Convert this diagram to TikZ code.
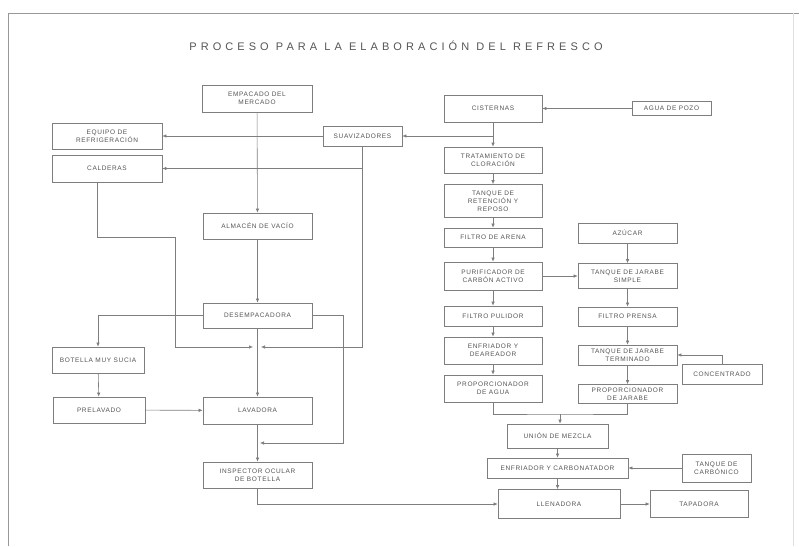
\documentclass[tikz,border=0pt]{standalone}
\usepackage{fontspec}
\setmainfont{Liberation Sans}
\usetikzlibrary{positioning, arrows.meta}
\definecolor{linegray}{HTML}{7E7E7E}
\definecolor{inkgray}{HTML}{555555}
\tikzset{
  box/.style={draw=linegray, line width=0.7pt, fill=white, align=center, font=\fontsize{6.5}{8}\selectfont\addfontfeatures{LetterSpace=10}, text=inkgray, inner sep=1pt},
  arrow/.style={-{Latex[length=4pt, width=3.5pt]}, line width=0.6pt, draw=linegray},
  link/.style={line width=0.6pt, draw=linegray},
}

\begin{document}
\begin{tikzpicture}[x=1pt, y=-1pt]
  \useasboundingbox (0,0) rectangle (799,546);
  % page frame
  \draw[linegray!80, line width=0.8pt] (8,546) -- (8,13) -- (799,13);
  \draw[linegray!25] (793,13) -- (793,546);
  % title
  \node[font=\fontsize{11}{13}\selectfont\addfontfeatures{LetterSpace=37}, text=inkgray] (title) at (396,46) {PROCESO PARA LA ELABORACIÓN DEL REFRESCO};

  % Bottle line (left)
  \node[box, minimum width=110pt, minimum height=27pt] (empaque) at (257,98.5) {EMPACADO DEL\\MERCADO};
  \node[box, minimum width=110pt, minimum height=26pt] (refri) at (107,136) {EQUIPO DE\\REFRIGERACIÓN};
  \node[box, minimum width=110pt, minimum height=27pt] (calderas) at (107,168.5) {CALDERAS};
  \node[box, minimum width=79pt, minimum height=20pt] (suaviz) at (362.5,136) {SUAVIZADORES};
  \node[box, minimum width=109pt, minimum height=26pt] (almacen) at (257.5,226) {ALMACÉN DE VACÍO};
  \node[box, minimum width=109pt, minimum height=25pt] (desemp) at (257.5,315.5) {DESEMPACADORA};
  \node[box, minimum width=92pt, minimum height=26pt] (sucia) at (98,360) {BOTELLA MUY SUCIA};
  \node[box, minimum width=92pt, minimum height=26pt] (prelav) at (99,410) {PRELAVADO};
  \node[box, minimum width=109pt, minimum height=27pt] (lavad) at (257.5,410.5) {LAVADORA};
  \node[box, minimum width=109pt, minimum height=26pt] (inspec) at (257.5,475) {INSPECTOR OCULAR\\DE BOTELLA};

  % Water line
  \node[box, minimum width=98pt, minimum height=27pt] (cist) at (493,108.5) {CISTERNAS};
  \node[box, minimum width=79pt, minimum height=14pt] (agua) at (671.5,108.5) {AGUA DE POZO};
  \node[box, minimum width=98pt, minimum height=26pt] (trat) at (493,160) {TRATAMIENTO DE\\CLORACIÓN};
  \node[box, minimum width=98pt, minimum height=33pt] (tanqret) at (493,201) {TANQUE DE\\RETENCIÓN Y\\REPOSO};
  \node[box, minimum width=98pt, minimum height=19pt] (farena) at (493,237.5) {FILTRO DE ARENA};
  \node[box, minimum width=98pt, minimum height=28pt] (carbon) at (493,276) {PURIFICADOR DE\\CARBÓN ACTIVO};
  \node[box, minimum width=98pt, minimum height=20pt] (fpulidor) at (493,316) {FILTRO PULIDOR};
  \node[box, minimum width=98pt, minimum height=27pt] (enfria) at (493,350.5) {ENFRIADOR Y\\DEAREADOR};
  \node[box, minimum width=98pt, minimum height=27pt] (propagua) at (493,388.5) {PROPORCIONADOR\\DE AGUA};

  % Syrup line
  \node[box, minimum width=99pt, minimum height=20pt] (azucar) at (627.5,233) {AZÚCAR};
  \node[box, minimum width=99pt, minimum height=25pt] (jarsimple) at (627.5,276) {TANQUE DE JARABE\\SIMPLE};
  \node[box, minimum width=99pt, minimum height=19pt] (fprensa) at (627.5,316.5) {FILTRO PRENSA};
  \node[box, minimum width=99pt, minimum height=20pt] (jarterm) at (627.5,355) {TANQUE DE JARABE\\TERMINADO};
  \node[box, minimum width=80pt, minimum height=20pt] (concen) at (722,374) {CONCENTRADO};
  \node[box, minimum width=99pt, minimum height=19pt] (propjar) at (627.5,394) {PROPORCIONADOR\\DE JARABE};

  % Mixing and filling
  \node[box, minimum width=101pt, minimum height=24pt] (union) at (557.5,436) {UNIÓN DE MEZCLA};
  \node[box, minimum width=141pt, minimum height=20pt] (carbonat) at (557.5,468) {ENFRIADOR Y CARBONATADOR};
  \node[box, minimum width=69pt, minimum height=28pt] (tanqco) at (716.5,468) {TANQUE DE\\CARBÓNICO};
  \node[box, minimum width=122pt, minimum height=29pt] (llenad) at (559,504) {LLENADORA};
  \node[box, minimum width=98pt, minimum height=27pt] (tapad) at (699,504) {TAPADORA};

  % junction points
  \coordinate (jlavL) at (253,347);
  \coordinate (jlavR) at (261,347);
  \coordinate (calddown) at (97,237);
  \coordinate (caldright) at (175,237);
  \coordinate (desdown) at (343,443);
  \coordinate (jinsp) at (260,443);
  \coordinate (jmix) at (560,414);

  % bottle flow
  \draw[arrow] (empaque) -- (almacen);
  \draw[arrow] (almacen) -- (desemp);
  \draw[arrow] (desemp) -- (lavad);
  \draw[arrow] (lavad) -- (inspec);
  \draw[arrow] (desemp.west) -| (sucia.north);
  \draw[arrow] (sucia) -- (prelav);
  \draw[arrow] (prelav) -- (lavad);
  \draw[arrow] (desemp.east) -| (desdown) -- (jinsp);
  \draw[arrow] (inspec.south) |- (llenad.west);

  % services
  \draw[arrow] (suaviz) -- (refri);
  \draw[arrow] (suaviz.south |- calderas.east) -- (calderas.east);
  \draw[arrow] (suaviz.south) |- (jlavR);
  \draw[arrow] (calderas.south -| calddown) -- (calddown) -- (caldright) |- (jlavL);

  % water flow
  \draw[arrow] (agua) -- (cist);
  \draw[arrow] (cist.south |- suaviz.east) -- (suaviz.east);
  \draw[arrow] (cist) -- (trat);
  \draw[arrow] (trat) -- (tanqret);
  \draw[arrow] (tanqret) -- (farena);
  \draw[arrow] (farena) -- (carbon);
  \draw[arrow] (carbon) -- (fpulidor);
  \draw[arrow] (fpulidor) -- (enfria);
  \draw[arrow] (enfria) -- (propagua);

  % syrup flow
  \draw[arrow] (carbon) -- (jarsimple);
  \draw[arrow] (azucar) -- (jarsimple);
  \draw[arrow] (jarsimple) -- (fprensa);
  \draw[arrow] (fprensa) -- (jarterm);
  \draw[arrow] (jarterm) -- (propjar);
  \draw[arrow] (concen.north) |- (jarterm.east);

  % mixing
  \draw[link] (propagua.south) |- (jmix) -| (propjar.south);
  \draw[arrow] (jmix) -- (jmix |- union.north);
  \draw[arrow] (union) -- (carbonat);
  \draw[arrow] (tanqco) -- (carbonat);
  \draw[arrow] (carbonat.south) -- (carbonat.south |- llenad.north);
  \draw[arrow] (llenad) -- (tapad);
\end{tikzpicture}
\end{document}
